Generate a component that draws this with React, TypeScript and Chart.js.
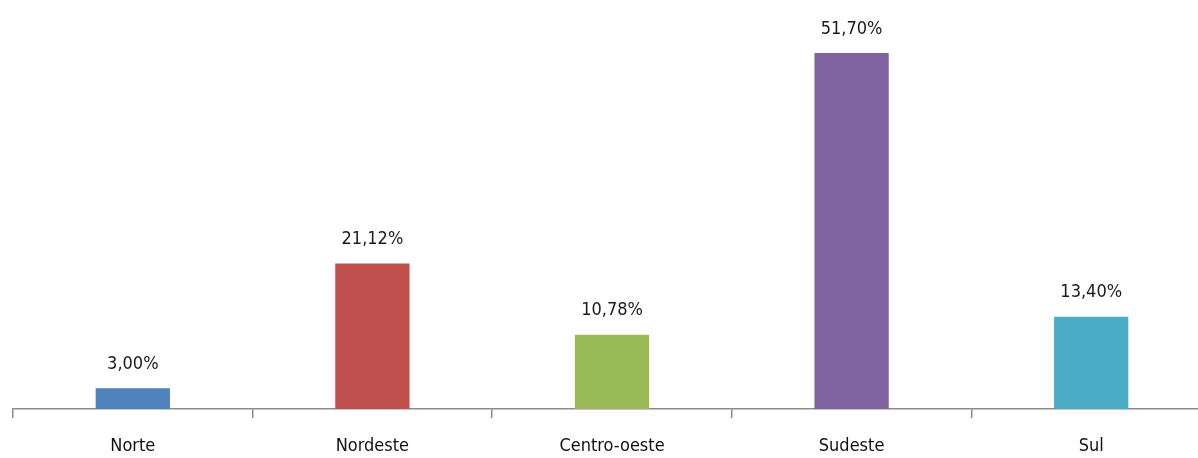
import React, { useEffect, useRef } from "react";
import { Chart, registerables } from "chart.js";

Chart.register(...registerables);

const categories = ["Norte", "Nordeste", "Centro-oeste", "Sudeste", "Sul"];
const values = [3.0, 21.12, 10.78, 51.7, 13.4];
const valueLabels = ["3,00%", "21,12%", "10,78%", "51,70%", "13,40%"];
const colors = ["#4F81BD", "#C0504D", "#9BBB59", "#8064A2", "#4BACC6"];

const FONT = "'Liberation Sans Narrow', 'DejaVu Sans Condensed', 'Liberation Sans', sans-serif";

const labelPlugin = {
  id: "valueLabels",
  afterDatasetsDraw(chart: any) {
    const ctx = chart.ctx;
    const meta = chart.getDatasetMeta(0);
    ctx.save();
    ctx.font = `18px ${FONT}`;
    ctx.fillStyle = "#1a1a1a";
    ctx.textAlign = "center";
    ctx.textBaseline = "middle";
    meta.data.forEach((el: any, i: number) => {
      ctx.fillText(valueLabels[i], el.x, el.y - 24);
    });
    ctx.restore();
  },
};

export default function App() {
  const ref = useRef<HTMLCanvasElement>(null);
  useEffect(() => {
    document.body.style.margin = "0";
    document.body.style.overflow = "hidden";
    document.documentElement.style.overflow = "hidden";
    const chart = new Chart(ref.current!, {
      type: "bar",
      data: {
        labels: categories,
        datasets: [
          {
            data: values,
            backgroundColor: colors,
            borderWidth: 0,
            barPercentage: 0.31,
            categoryPercentage: 1,
          },
        ],
      },
      options: {
        animation: false,
        responsive: false,
        maintainAspectRatio: false,
        layout: { padding: { left: 13, right: 0, top: 0, bottom: 0 } },
        plugins: { legend: { display: false }, tooltip: { enabled: false } },
        scales: {
          y: { display: false, min: 0, max: 59.4 },
          x: {
            afterFit(scale: any) {
              scale.height = 49;
            },
            border: { display: true, color: "#8c8c8c", width: 1.5 },
            grid: {
              display: true,
              drawOnChartArea: false,
              drawTicks: true,
              tickLength: 9,
              color: "#8c8c8c",
              lineWidth: 1.5,
              offset: true,
            },
            ticks: {
              color: "#111",
              padding: 18,
              font: { family: FONT, size: 18 },
              maxRotation: 0,
              autoSkip: false,
            },
          },
        },
      },
      plugins: [labelPlugin],
    });
    return () => chart.destroy();
  }, []);
  return (
    <div style={{ position: "fixed", left: 0, top: 0, width: 1198, height: 458, overflow: "hidden", background: "#fff" }}>
      <canvas ref={ref} width={1211} height={458} style={{ width: 1211, height: 458, display: "block" }} />
    </div>
  );
}
